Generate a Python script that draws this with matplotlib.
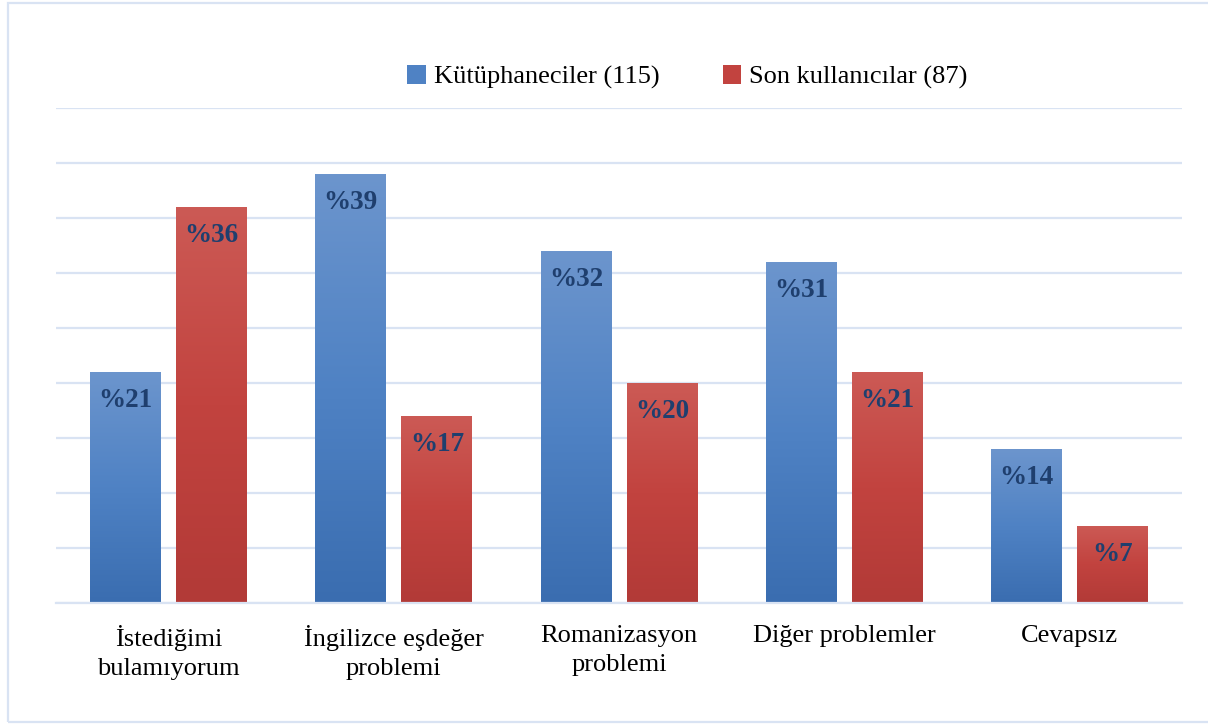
import numpy as np
import matplotlib.pyplot as plt
from matplotlib.patches import Rectangle, Patch
from matplotlib.colors import LinearSegmentedColormap

plt.rcParams['font.family'] = ['Liberation Serif', 'DejaVu Serif']

categories = ['İstediğimi\nbulamıyorum', 'İngilizce eşdeğer\nproblemi', 'Romanizasyon\nproblemi',
              'Diğer problemler', 'Cevapsız']
kutuphaneciler = [21, 39, 32, 31, 14]
son_kullanicilar = [36, 17, 20, 21, 7]
series_names = ['Kütüphaneciler (115)', 'Son kullanıcılar (87)']

blue_cm = LinearSegmentedColormap.from_list('b', ['#3A6DB0', '#4F82C4', '#6C95CD'])
red_cm = LinearSegmentedColormap.from_list('r', ['#B23A37', '#C2433F', '#CC5A55'])

fig = plt.figure(figsize=(12.08, 7.24), dpi=100)
ax = fig.add_axes([56 / 1208, 1 - 603 / 724, 1126 / 1208, 495 / 724])

x = np.arange(len(categories))
w = 0.315
off = 0.191
grad = np.linspace(0, 1, 256).reshape(-1, 1)


def draw_bars(xs, vals, cmap):
    for xi, v in zip(xs, vals):
        rect = Rectangle((xi - w / 2, 0), w, v, facecolor='none', edgecolor='none')
        ax.add_patch(rect)
        im = ax.imshow(grad, cmap=cmap, aspect='auto', origin='lower',
                       extent=(xi - w / 2, xi + w / 2, 0, v), zorder=2)
        im.set_clip_path(rect)
        ax.text(xi, v - 2.6, '%' + str(v), ha='center', va='center', fontsize=19.5,
                fontweight='bold', color='#1F3F6E', zorder=3)


draw_bars(x - off, kutuphaneciler, blue_cm)
draw_bars(x + off, son_kullanicilar, red_cm)

ax.set_xlim(-0.5, 4.5)
ax.set_ylim(0, 45)
ax.set_yticks(np.arange(0, 46, 5))
ax.yaxis.grid(True, color='#D9E3F3', lw=1.6, zorder=0)
ax.set_axisbelow(True)
ax.tick_params(axis='y', left=False, labelleft=False)
ax.tick_params(axis='x', bottom=False, labelsize=19, pad=12)
ax.set_xticks(x)
ax.set_xticklabels(categories, linespacing=1.45)
for s in ['top', 'right', 'left']:
    ax.spines[s].set_visible(False)
ax.spines['bottom'].set_color('#D9E3F3')
ax.spines['bottom'].set_linewidth(1.6)

handles = [Patch(facecolor='#4F82C4'), Patch(facecolor='#C2433F')]
fig.legend(handles, series_names, loc='center', bbox_to_anchor=(0.569, 1 - 77 / 724), ncol=2,
           frameon=False, fontsize=19, handlelength=0.7, handleheight=0.7,
           handletextpad=0.3, columnspacing=2.4)

fig.patches.append(Rectangle((8 / 1208, 1 - 722 / 724), 1.2, 719 / 724, transform=fig.transFigure,
                             fill=False, edgecolor='#D9E3F3', lw=1.6))

fig.savefig('out.png', dpi=100)
